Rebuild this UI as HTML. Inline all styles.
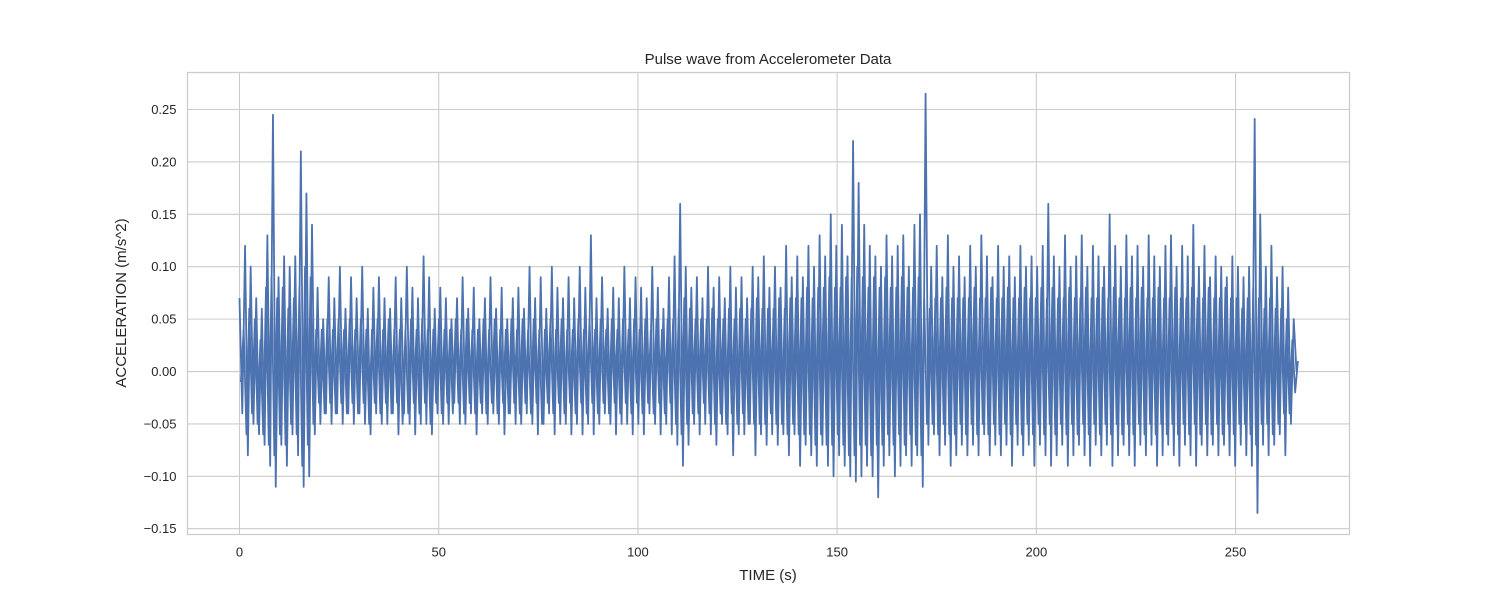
<!DOCTYPE html>
<html><head><meta charset="utf-8"><style>
html,body{margin:0;padding:0;background:#fff;}
svg{display:block;font-family:"Liberation Sans",sans-serif;}
</style></head><body>
<svg id="chart" width="1500" height="600">
<rect x="0" y="0" width="1500" height="600" fill="#fff"/>
<g id="grid"></g>
<g id="series"></g>
<rect x="187.5" y="72.5" width="1162" height="462" fill="none" stroke="#cccccc" stroke-width="1.25"/>
<g id="ticks"></g>
<text x="768" y="64" text-anchor="middle" font-size="15" fill="#262626">Pulse wave from Accelerometer Data</text>
<text x="768" y="580" text-anchor="middle" font-size="15" fill="#262626">TIME (s)</text>
<text x="126" y="303" text-anchor="middle" font-size="15" fill="#262626" transform="rotate(-90 126 303)">ACCELERATION (m/s^2)</text>
</svg>
<script>
const xTicks = [0, 50, 100, 150, 200, 250];
const yTicks = [-0.15, -0.10, -0.05, 0.00, 0.05, 0.10, 0.15, 0.20, 0.25];
const yTickLabels = ["−0.15","−0.10","−0.05","0.00","0.05","0.10","0.15","0.20","0.25"];
const sampleInterval = 0.7;
const offsetB = 0.35;
const accel = [
0.07,-0.04,0.12,-0.08,0.10,-0.05,0.07,-0.06,0.06,-0.07,0.13,-0.09,0.245,-0.11,0.09,-0.07,0.11,-0.09,0.10,-0.06,
0.11,-0.08,0.21,-0.11,0.17,-0.10,0.14,-0.06,0.08,-0.05,0.05,-0.04,0.09,-0.05,0.07,-0.04,0.10,-0.05,0.06,-0.04,
0.09,-0.05,0.07,-0.04,0.10,-0.05,0.06,-0.06,0.08,-0.04,0.09,-0.05,0.07,-0.05,0.06,-0.04,0.09,-0.06,0.07,-0.04,
0.10,-0.05,0.08,-0.06,0.07,-0.05,0.11,-0.05,0.09,-0.06,0.06,-0.04,0.08,-0.05,0.07,-0.05,0.05,-0.03,0.07,-0.05,
0.09,-0.05,0.06,-0.04,0.08,-0.06,0.05,-0.04,0.07,-0.05,0.09,-0.04,0.06,-0.05,0.08,-0.06,0.05,-0.04,0.07,-0.05,
0.08,-0.05,0.06,-0.04,0.10,-0.05,0.07,-0.06,0.09,-0.05,0.06,-0.04,0.10,-0.06,0.08,-0.05,0.07,-0.05,0.09,-0.06,
0.07,-0.05,0.10,-0.06,0.08,-0.05,0.13,-0.06,0.07,-0.05,0.09,-0.04,0.06,-0.05,0.08,-0.06,0.07,-0.05,0.10,-0.05,
0.07,-0.06,0.09,-0.05,0.08,-0.06,0.07,-0.04,0.10,-0.05,0.08,-0.06,0.06,-0.05,0.09,-0.06,0.11,-0.07,0.16,-0.09,
0.10,-0.07,0.08,-0.05,0.09,-0.06,0.07,-0.05,0.10,-0.06,0.08,-0.07,0.09,-0.05,0.07,-0.06,0.10,-0.08,0.08,-0.06,
0.09,-0.06,0.07,-0.05,0.10,-0.08,0.09,-0.06,0.11,-0.07,0.08,-0.06,0.10,-0.07,0.08,-0.06,0.12,-0.08,0.09,-0.06,
0.11,-0.09,0.09,-0.07,0.12,-0.08,0.10,-0.09,0.13,-0.07,0.11,-0.09,0.15,-0.10,0.12,-0.08,0.14,-0.09,0.11,-0.10,
0.22,-0.105,0.18,-0.10,0.14,-0.09,0.12,-0.10,0.11,-0.12,0.10,-0.09,0.13,-0.08,0.11,-0.10,0.12,-0.09,0.13,-0.08,
0.10,-0.09,0.14,-0.08,0.15,-0.11,0.265,-0.07,0.10,-0.06,0.12,-0.08,0.09,-0.07,0.13,-0.09,0.10,-0.08,0.11,-0.07,
0.09,-0.08,0.12,-0.07,0.10,-0.08,0.13,-0.06,0.11,-0.08,0.09,-0.07,0.12,-0.08,0.10,-0.07,0.11,-0.09,0.09,-0.07,
0.12,-0.08,0.10,-0.07,0.11,-0.09,0.10,-0.07,0.12,-0.08,0.16,-0.09,0.11,-0.08,0.10,-0.07,0.13,-0.09,0.10,-0.08,
0.11,-0.07,0.13,-0.08,0.10,-0.09,0.12,-0.07,0.11,-0.08,0.10,-0.07,0.15,-0.09,0.12,-0.08,0.10,-0.07,0.13,-0.08,
0.11,-0.09,0.12,-0.07,0.10,-0.08,0.13,-0.07,0.11,-0.09,0.10,-0.08,0.12,-0.07,0.13,-0.08,0.10,-0.09,0.12,-0.07,
0.11,-0.08,0.14,-0.09,0.10,-0.07,0.12,-0.08,0.09,-0.07,0.11,-0.08,0.10,-0.07,0.09,-0.08,0.11,-0.09,0.10,-0.07,
0.09,-0.08,0.10,-0.09,0.241,-0.135,0.15,-0.07,0.10,-0.08,0.12,-0.07,0.09,-0.06,0.10,-0.08,0.08,-0.05,0.05,0.00
];
const accelB = [
-0.01,0.04,-0.06,0.06,-0.04,0.05,-0.05,0.03,-0.06,0.08,-0.07,0.09,-0.08,0.07,-0.06,0.08,-0.07,0.06,-0.05,0.07,
-0.06,0.08,-0.09,0.10,-0.07,0.09,-0.05,0.04,-0.03,0.04,-0.04,0.05,-0.03,0.04,-0.04,0.05,-0.03,0.04,-0.04,0.05,
-0.03,0.04,-0.04,0.05,-0.03,0.04,-0.05,0.04,-0.03,0.05,-0.04,0.04,-0.03,0.05,-0.04,0.04,-0.03,0.04,-0.05,0.04,
-0.04,0.05,-0.03,0.04,-0.04,0.05,-0.03,0.04,-0.05,0.04,-0.03,0.05,-0.04,0.04,-0.03,0.04,-0.04,0.05,-0.03,0.04,
-0.04,0.05,-0.03,0.04,-0.04,0.04,-0.03,0.05,-0.04,0.04,-0.03,0.05,-0.04,0.04,-0.03,0.04,-0.04,0.05,-0.03,0.04,
-0.04,0.05,-0.03,0.04,-0.04,0.05,-0.03,0.04,-0.05,0.04,-0.03,0.05,-0.04,0.04,-0.03,0.05,-0.04,0.04,-0.03,0.04,
-0.04,0.05,-0.03,0.04,-0.04,0.05,-0.03,0.04,-0.04,0.05,-0.03,0.04,-0.04,0.05,-0.03,0.04,-0.04,0.05,-0.03,0.04,
-0.04,0.05,-0.03,0.04,-0.04,0.05,-0.03,0.04,-0.04,0.05,-0.03,0.04,-0.04,0.05,-0.03,0.05,-0.05,0.06,-0.06,0.07,
-0.05,0.06,-0.04,0.05,-0.04,0.05,-0.03,0.05,-0.04,0.06,-0.05,0.05,-0.04,0.05,-0.05,0.06,-0.04,0.05,-0.05,0.06,
-0.04,0.05,-0.05,0.06,-0.05,0.07,-0.05,0.06,-0.05,0.06,-0.04,0.06,-0.05,0.07,-0.05,0.06,-0.06,0.07,-0.05,0.07,
-0.06,0.07,-0.06,0.08,-0.06,0.07,-0.07,0.08,-0.06,0.08,-0.07,0.09,-0.07,0.08,-0.06,0.08,-0.07,0.09,-0.08,0.09,
-0.08,0.10,-0.07,0.09,-0.07,0.08,-0.08,0.09,-0.07,0.08,-0.07,0.09,-0.06,0.08,-0.07,0.08,-0.06,0.09,-0.07,0.08,
-0.06,0.08,-0.07,0.09,-0.08,0.07,-0.05,0.06,-0.05,0.07,-0.06,0.07,-0.05,0.08,-0.06,0.07,-0.06,0.07,-0.05,0.07,
-0.06,0.07,-0.05,0.08,-0.06,0.07,-0.05,0.07,-0.06,0.08,-0.05,0.07,-0.06,0.07,-0.05,0.08,-0.06,0.07,-0.05,0.07,
-0.06,0.08,-0.05,0.07,-0.06,0.07,-0.05,0.08,-0.06,0.07,-0.05,0.08,-0.06,0.07,-0.05,0.07,-0.06,0.08,-0.05,0.07,
-0.06,0.07,-0.05,0.08,-0.06,0.07,-0.05,0.07,-0.06,0.08,-0.05,0.07,-0.06,0.08,-0.05,0.07,-0.06,0.07,-0.05,0.08,
-0.06,0.07,-0.05,0.08,-0.06,0.07,-0.05,0.07,-0.06,0.08,-0.05,0.07,-0.06,0.07,-0.05,0.08,-0.06,0.07,-0.05,0.07,
-0.06,0.08,-0.05,0.07,-0.06,0.07,-0.05,0.08,-0.06,0.07,-0.05,0.07,-0.06,0.08,-0.05,0.07,-0.06,0.07,-0.05,0.06,
-0.05,0.07,-0.06,0.08,-0.07,0.07,-0.05,0.06,-0.05,0.07,-0.06,0.06,-0.05,0.06,-0.04,0.05,-0.04,0.03,-0.02,0.01
];

const X0 = 187.5, X1 = 1349.5, Y0 = 72.5, Y1 = 534.5;
const xMin = -13.05, xMax = 278.6, yMin = -0.1555, yMax = 0.2853;
const sx = v => X0 + (v - xMin) / (xMax - xMin) * (X1 - X0);
const sy = v => Y1 - (v - yMin) / (yMax - yMin) * (Y1 - Y0);
const NS = "http://www.w3.org/2000/svg";
const grid = document.getElementById('grid');
const ticks = document.getElementById('ticks');
const series = document.getElementById('series');

xTicks.forEach(t => {
  const l = document.createElementNS(NS, 'line');
  l.setAttribute('x1', sx(t)); l.setAttribute('x2', sx(t));
  l.setAttribute('y1', Y0); l.setAttribute('y2', Y1);
  l.setAttribute('stroke', '#cccccc'); l.setAttribute('stroke-width', '1.1');
  
  
  grid.appendChild(l);
  const tx = document.createElementNS(NS, 'text');
  tx.setAttribute('x', sx(t)); tx.setAttribute('y', Y1 + 22);
  tx.setAttribute('text-anchor', 'middle'); tx.setAttribute('font-size', '13');
  tx.setAttribute('fill', '#262626');
  tx.textContent = t;
  
  
  ticks.appendChild(tx);
});
yTicks.forEach((t, i) => {
  const l = document.createElementNS(NS, 'line');
  l.setAttribute('x1', X0); l.setAttribute('x2', X1);
  l.setAttribute('y1', sy(t)); l.setAttribute('y2', sy(t));
  l.setAttribute('stroke', '#cccccc'); l.setAttribute('stroke-width', '1.1');
  
  
  grid.appendChild(l);
  const tx = document.createElementNS(NS, 'text');
  tx.setAttribute('x', X0 - 11); tx.setAttribute('y', sy(t) + 4.5);
  tx.setAttribute('text-anchor', 'end'); tx.setAttribute('font-size', '13');
  tx.setAttribute('fill', '#262626');
  tx.textContent = yTickLabels[i];
  
  
  ticks.appendChild(tx);
});

const ptsB = accelB.map((v, i) => sx(i * sampleInterval + offsetB).toFixed(2) + ',' + sy(v).toFixed(2)).join(' ');
const plB = document.createElementNS(NS, 'polyline');
plB.setAttribute('points', ptsB);
plB.setAttribute('fill', 'none');
plB.setAttribute('stroke', '#4c72b0');
plB.setAttribute('stroke-width', '1.8');
plB.setAttribute('stroke-linejoin', 'round');


series.appendChild(plB);

const pts = accel.map((v, i) => sx(i * sampleInterval).toFixed(2) + ',' + sy(v).toFixed(2)).join(' ');
const pl = document.createElementNS(NS, 'polyline');
pl.setAttribute('points', pts);
pl.setAttribute('fill', 'none');
pl.setAttribute('stroke', '#4c72b0');
pl.setAttribute('stroke-width', '1.8');
pl.setAttribute('stroke-linejoin', 'round');


series.appendChild(pl);
</script>
</body></html>
